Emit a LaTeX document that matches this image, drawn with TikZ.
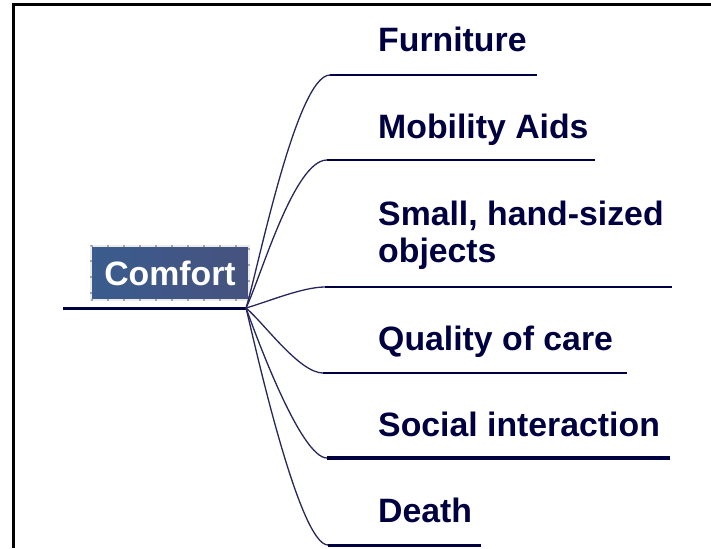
\documentclass[tikz,border=0pt]{standalone}
\usepackage{fontspec}
\setmainfont{Liberation Sans}
\definecolor{navy}{RGB}{0,0,64}
\definecolor{boxleft}{RGB}{58,92,142}
\definecolor{boxright}{RGB}{70,82,126}

\begin{document}
\begin{tikzpicture}[x=1pt, y=-1pt,
  topic/.style={anchor=base west, inner sep=0pt, text=navy, align=left,
    font=\fontsize{33.8}{37}\selectfont\bfseries},
  branch/.style={draw=navy, line width=2.5pt},
  twig/.style={draw=navy!85, line width=1.3pt}]

\useasboundingbox (0, 0) rectangle (711, 548);

% Frame
\coordinate (fr-bl) at (13, 548);
\coordinate (fr-tl) at (13, 5);
\coordinate (fr-tr) at (711, 5);
\draw[black, line width=3pt] (fr-bl) -- (fr-tl) -- (fr-tr);

% Central topic
\node[rectangle, left color=boxleft, right color=boxright, draw=gray!15,
  line width=2pt, minimum width=158pt, minimum height=54pt, text=white,
  font=\fontsize{33.8}{37}\selectfont\bfseries,
  postaction={draw=gray!70, line width=2pt, dash pattern=on 2pt off 14pt}]
  (comfort) at (170, 273) {Comfort};

\coordinate (tail) at (63, 308);
\coordinate (hub) at (246, 308);
\draw[draw=navy, line width=3pt] (tail) -- (hub);

% Subtopics
\node[topic] (furn) at (378, 52) {Furniture};
\node[topic] (mob) at (378, 139) {Mobility Aids};
\node[topic] (small) at (378, 262) {Small, hand-sized\\objects};
\node[topic] (qual) at (378, 350) {Quality of care};
\node[topic] (soc) at (378, 436) {Social interaction};
\node[topic] (death) at (378, 522) {Death};

% Underlines
\coordinate (furn-a) at (330, 75);   \coordinate (furn-b) at (537, 75);
\coordinate (mob-a) at (327, 160);   \coordinate (mob-b) at (595, 160);
\coordinate (small-a) at (325, 287); \coordinate (small-b) at (672, 287);
\coordinate (qual-a) at (323, 373);  \coordinate (qual-b) at (627, 373);
\coordinate (soc-a) at (327, 458);   \coordinate (soc-b) at (670, 458);
\coordinate (death-a) at (328, 545); \coordinate (death-b) at (481, 545);

\draw[branch] (furn-a) -- (furn-b);
\draw[branch] (mob-a) -- (mob-b);
\draw[branch] (small-a) -- (small-b);
\draw[branch] (qual-a) -- (qual-b);
\draw[branch, line width=4pt] (soc-a) -- (soc-b);
\draw[branch, line width=3pt] (death-a) -- (death-b);

% Curves
\draw[twig] (hub) to[out=72, in=180, looseness=0.35] (furn-a);
\draw[twig] (hub) to[out=64, in=180, looseness=0.5] (mob-a);
\draw[twig] (hub) to[out=16, in=180, looseness=0.7] (small-a);
\draw[twig] (hub) to[out=-40, in=180, looseness=0.6] (qual-a);
\draw[twig] (hub) to[out=-70, in=180, looseness=0.4] (soc-a);
\draw[twig] (hub) to[out=-76, in=180, looseness=0.3] (death-a);

\end{tikzpicture}
\end{document}
